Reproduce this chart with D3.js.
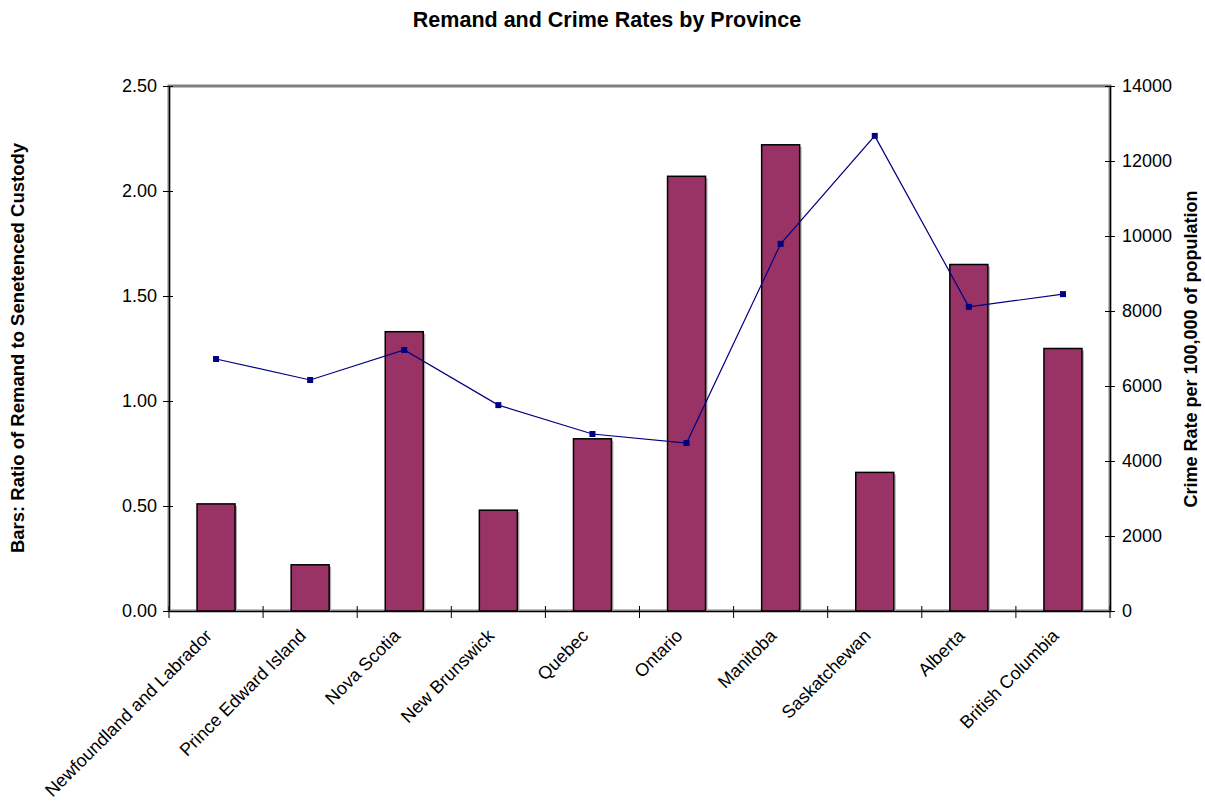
<!DOCTYPE html>
<html><head><meta charset="utf-8">
<script src="https://cdn.jsdelivr.net/npm/d3@7"></script>
<style>body{margin:0;background:#fff}svg{display:block}text{font-family:Arial,"Liberation Sans",sans-serif}</style>
</head><body><svg id="c" width="1205" height="804"></svg>
<script>
const provinces = ["Newfoundland and Labrador","Prince Edward Island","Nova Scotia","New Brunswick","Quebec","Ontario","Manitoba","Saskatchewan","Alberta","British Columbia"];
const remandRatio = [0.51,0.22,1.33,0.48,0.82,2.07,2.22,0.66,1.65,1.25];
const crimeRate = [6720,6160,6960,5490,4720,4480,9790,12670,8110,8450];
const leftTicks = [0,0.5,1,1.5,2,2.5];
const rightTicks = [0,2000,4000,6000,8000,10000,12000,14000];

const svg = d3.select("#c");
const L=169, R=1110, T=86, B=611;
const xb = d3.scaleBand().domain(provinces).range([L,R]);
const yL = d3.scaleLinear().domain([0,2.5]).range([B,T]);
const yR = d3.scaleLinear().domain([0,14000]).range([B,T]);

svg.append("text").attr("x",607).attr("y",27).attr("text-anchor","middle")
  .attr("font-size",21.5).attr("font-weight","bold").text("Remand and Crime Rates by Province");

// plot border
svg.append("rect").attr("x",L).attr("y",T).attr("width",R-L).attr("height",B-T)
  .attr("fill","none").attr("stroke","#808080").attr("stroke-width",3);

// bars with shadow
const bw = 38;
svg.append("g").selectAll("rect").data(provinces).join("rect")
  .attr("x",d=>xb(d)+xb.bandwidth()/2-bw/2+2).attr("y",(d,i)=>yL(remandRatio[i])+2)
  .attr("width",bw).attr("height",(d,i)=>B-yL(remandRatio[i])-2)
  .attr("fill","#b0b0b0");
svg.append("g").selectAll("rect").data(provinces).join("rect")
  .attr("x",d=>xb(d)+xb.bandwidth()/2-bw/2).attr("y",(d,i)=>yL(remandRatio[i]))
  .attr("width",bw).attr("height",(d,i)=>B-yL(remandRatio[i]))
  .attr("fill","#993366").attr("stroke","#000").attr("stroke-width",1.5);

// axes
const gl = svg.append("g").attr("transform",`translate(${L},0)`)
  .call(d3.axisLeft(yL).tickValues(leftTicks).tickFormat(d3.format(".2f")).tickSize(6).tickSizeOuter(0));
const gr = svg.append("g").attr("transform",`translate(${R},0)`)
  .call(d3.axisRight(yR).tickValues(rightTicks).tickFormat(d3.format("d")).tickSize(6).tickSizeOuter(0));
const gx = svg.append("g").attr("transform",`translate(0,${B})`)
  .call(d3.axisBottom(xb).tickSize(0).tickSizeOuter(0));
[gl,gr,gx].forEach(g=>{
  g.select(".domain").attr("stroke","#000").attr("stroke-width",1.2);
  g.selectAll("text").attr("font-size",18).attr("fill","#000").style("font-family","Arial, 'Liberation Sans', sans-serif");
  g.selectAll("line").attr("stroke","#000");
});
gl.selectAll(".tick line").attr("x1",4);
gl.selectAll(".tick text").attr("x",-12);
gr.selectAll(".tick line").attr("x1",-5).attr("x2",5);
gr.selectAll(".tick text").attr("x",12);
// x category boundary ticks
svg.append("g").selectAll("line").data(provinces.concat(["__end"])).join("line")
  .attr("x1",(d,i)=>L+i*xb.step()).attr("x2",(d,i)=>L+i*xb.step())
  .attr("y1",B-5).attr("y2",B+7).attr("stroke","#000");
gx.selectAll(".tick text")
  .attr("text-anchor","end").attr("dy",0).attr("y",0)
  .attr("transform","translate(-3,26) rotate(-45)");

// line
const line = d3.line().x((d,i)=>xb(provinces[i])+xb.bandwidth()/2).y(d=>yR(d));
svg.append("path").datum(crimeRate).attr("d",line).attr("fill","none").attr("stroke","#000080").attr("stroke-width",1.2);
svg.append("g").selectAll("rect").data(crimeRate).join("rect")
  .attr("x",(d,i)=>xb(provinces[i])+xb.bandwidth()/2-3).attr("y",d=>yR(d)-3)
  .attr("width",6).attr("height",6).attr("fill","#000080");

// axis titles
svg.append("text").attr("transform",`translate(24,348) rotate(-90)`).attr("text-anchor","middle")
  .attr("font-size",18.5).attr("font-weight","bold").text("Bars: Ratio of Remand to Senetenced Custody");
svg.append("text").attr("transform",`translate(1197,349) rotate(-90)`).attr("text-anchor","middle")
  .attr("font-size",18).attr("font-weight","bold").text("Crime Rate per 100,000 of population");
</script></body></html>
